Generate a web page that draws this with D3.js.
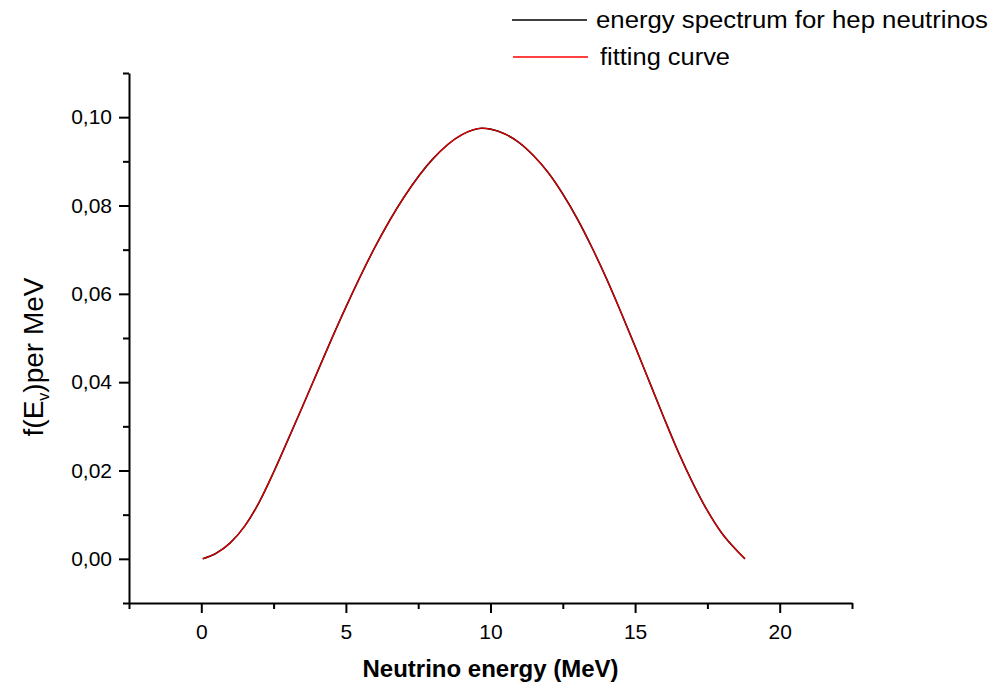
<!DOCTYPE html>
<html>
<head>
<meta charset="utf-8">
<script src="https://cdn.jsdelivr.net/npm/d3@7"></script>
<style>
  body { margin: 0; background: #fff; }
  svg { display: block; font-family: "Liberation Sans", Arial, sans-serif; }
</style>
</head>
<body>
<div class="graph"></div>
<script>
"use strict";

// energy (MeV) and f(E)
var energy = [0.05, 0.5, 1, 1.5, 2, 2.5, 3, 3.5, 4, 4.5, 5, 6, 7, 8, 9, 9.7, 10, 10.5, 11, 11.5, 12, 12.5, 13, 13.5, 14, 14.5, 15, 15.5, 16, 16.5, 17, 17.5, 18, 18.5, 18.8];
var spectrum = [0, 0.0012, 0.0036, 0.0074, 0.0128, 0.0196, 0.0270, 0.0345, 0.0421, 0.0497, 0.0570, 0.0705, 0.0818, 0.0905, 0.0960, 0.0975, 0.0973, 0.0962, 0.0942, 0.0912, 0.0874, 0.0826, 0.0770, 0.0706, 0.0636, 0.0560, 0.0481, 0.0400, 0.0319, 0.0241, 0.0171, 0.0109, 0.0058, 0.0020, 0];
var fitting = spectrum.slice();

var xMajor = [0, 5, 10, 15, 20];
var xMinor = [-2.5, 2.5, 7.5, 12.5, 17.5, 22.5];
var yMajor = [0, 0.02, 0.04, 0.06, 0.08, 0.10];
var yMinor = [-0.01, 0.01, 0.03, 0.05, 0.07, 0.09, 0.11];

var legendNames = ["energy spectrum for hep neutrinos", "fitting curve"];
var legendColors = ["#000", "#e00000"];

var width = 994,
    height = 689,
    margin = {top: 73, right: 142, bottom: 86, left: 129};

var x = d3.scaleLinear()
    .domain([-2.5, 22.5])
    .range([margin.left, width - margin.right]);

var y = d3.scaleLinear()
    .domain([-0.01, 0.11])
    .range([height - margin.bottom, margin.top]);

var svg = d3.select('.graph').append('svg')
    .attr('width', width)
    .attr('height', height);

var fmt = function(d) { return d3.format('.2f')(d).replace('.', ','); };

// minor ticks first, then the major axis on top
svg.append('g')
    .attr('transform', 'translate(0,' + y(-0.01) + ')')
    .call(d3.axisBottom(x).tickValues(xMinor).tickSize(6).tickFormat(''))
    .call(function(g) { g.select('.domain').remove(); })
    .selectAll('line').attr('stroke-width', 2);

svg.append('g')
    .attr('transform', 'translate(' + x(-2.5) + ',0)')
    .call(d3.axisLeft(y).tickValues(yMinor).tickSize(6).tickFormat(''))
    .call(function(g) { g.select('.domain').remove(); })
    .selectAll('line').attr('stroke-width', 2);

var axisX = svg.append('g')
    .attr('transform', 'translate(0,' + y(-0.01) + ')')
    .call(d3.axisBottom(x).tickValues(xMajor).tickSize(10).tickSizeOuter(0).tickPadding(11));

var axisY = svg.append('g')
    .attr('transform', 'translate(' + x(-2.5) + ',0)')
    .call(d3.axisLeft(y).tickValues(yMajor).tickSize(10).tickSizeOuter(0).tickPadding(7).tickFormat(fmt));

[axisX, axisY].forEach(function(a) {
    a.select('.domain').attr('stroke-width', 2);
    a.selectAll('line').attr('stroke-width', 2);
    a.selectAll('text')
        .attr('font-size', '21px')
        .attr('font-family', '"Liberation Sans", Arial, sans-serif')
        .attr('fill', '#000');
});

// curves
var line = d3.line()
    .curve(d3.curveMonotoneX)
    .x(function(d) { return x(d[0]); })
    .y(function(d) { return y(d[1]); });

svg.append('path')
    .datum(d3.zip(energy, spectrum))
    .attr('fill', 'none')
    .attr('stroke', legendColors[0])
    .attr('stroke-width', 1.6)
    .attr('d', line);

svg.append('path')
    .datum(d3.zip(energy, fitting))
    .attr('fill', 'none')
    .attr('stroke', legendColors[1])
    .attr('stroke-width', 1.3)
    .attr('d', line);

// axis titles
svg.append('text')
    .attr('x', x(10))
    .attr('y', 677)
    .attr('text-anchor', 'middle')
    .attr('font-size', '24px')
    .attr('font-weight', 'bold')
    .text('Neutrino energy (MeV)');

var yTitle = svg.append('text')
    .attr('transform', 'translate(43,357) rotate(-90)')
    .attr('text-anchor', 'middle')
    .attr('font-size', '28px');
yTitle.append('tspan').text('f(E');
yTitle.append('tspan').attr('font-size', '16px').attr('dy', 6).text('v');
yTitle.append('tspan').attr('dy', -6).text(')per MeV');

// legend
var legend = svg.append('g');
var legendText = [[596, 392], [600, 130]];
legendNames.forEach(function(name, i) {
    var yy = i === 0 ? 20 : 57;
    legend.append('line')
        .attr('x1', 512 + i).attr('x2', 587 + i)
        .attr('y1', yy).attr('y2', yy)
        .attr('stroke', i === 1 ? '#ff0000' : '#000')
        .attr('stroke-width', 1.5);
    legend.append('text')
        .attr('x', legendText[i][0])
        .attr('y', yy + 8)
        .attr('font-size', '23px')
        .attr('textLength', legendText[i][1])
        .attr('lengthAdjust', 'spacingAndGlyphs')
        .text(name);
});
</script>
</body>
</html>
